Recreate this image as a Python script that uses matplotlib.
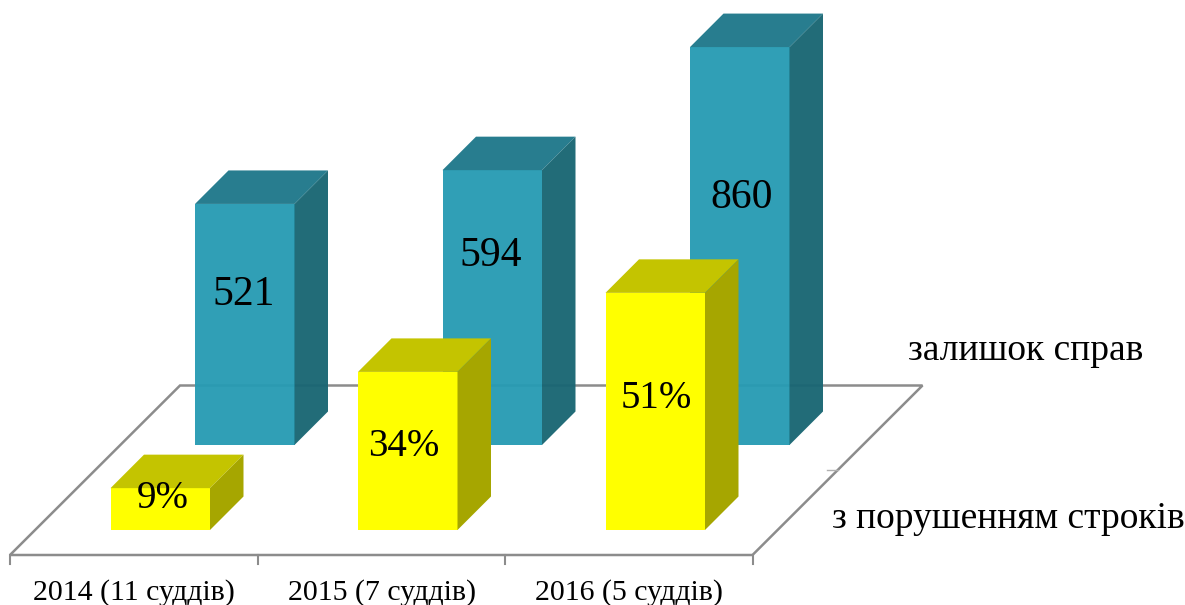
import matplotlib
matplotlib.use('Agg')
import matplotlib.pyplot as plt
from matplotlib.patches import Polygon

plt.rcParams['font.family'] = ['Liberation Serif', 'DejaVu Serif']

# Data
years = ['2014 (11 суддів)', '2015 (7 суддів)', '2016 (5 суддів)']
series_names = ['з порушенням строків', 'залишок справ']
violations_pct = [9, 34, 51]
backlog = [521, 594, 860]

# Scales of the pseudo-3D picture (pixels)
px_per_case = 0.4627
px_per_pct = 4.65
depth = 33.5
bar_w = 99.5
cat_w = 247.5
floor_left = 10
floor_front = 555
floor_back = 385.5
floor_shift = 170
base_front = 530
base_back = 445
bar_offset_front = 100.5
bar_offset_back = 185

teal = ('#279bb3', '#1f788b', '#196673')
yellow = ('#ffff00', '#c4c400', '#a6a600')
grey = '#8c8c8c'

# Label positions as placed in the picture
backlog_label_y = [295, 256, 198]
backlog_label_dx = [-1, -2, 1.5]
pct_label_y = [499, 446, 399]
pct_label_dx = [2, -4.5, 1]


def draw_box(ax, x, base, height, colors, alpha=1.0, z=3):
    top = base - height
    front = [(x, base), (x + bar_w, base), (x + bar_w, top), (x, top)]
    roof = [(x, top), (x + bar_w, top), (x + bar_w + depth, top - depth), (x + depth, top - depth)]
    side = [(x + bar_w, base), (x + bar_w + depth, base - depth), (x + bar_w + depth, top - depth), (x + bar_w, top)]
    for pts, c in zip([front, roof, side], colors):
        ax.add_patch(Polygon(pts, closed=True, facecolor=c, edgecolor='none', alpha=alpha, zorder=z))


fig = plt.figure(figsize=(11.85, 6.05), dpi=100)
ax = fig.add_axes([0, 0, 1, 1])
ax.set_xlim(0, 1185)
ax.set_ylim(605, 0)
ax.axis('off')

# Floor
floor_right = floor_left + cat_w * len(years)
ax.add_patch(Polygon([(floor_left, floor_front), (floor_right, floor_front),
                      (floor_right + floor_shift, floor_back), (floor_left + floor_shift, floor_back)],
                     closed=True, facecolor='white', edgecolor=grey, linewidth=1.8, zorder=1))

# Category ticks and labels
for i in range(len(years) + 1):
    tx = floor_left + cat_w * i
    ax.plot([tx, tx], [floor_front, floor_front + 9], color=grey, linewidth=1.5, zorder=1)
for i, label in enumerate(years):
    ax.text(floor_left + cat_w * (i + 0.5) + 0.5, 593, label, fontsize=21.5, ha='center', va='center', color='black')

# Series tick on the right edge
ax.plot([827, 838], [470, 470], color='#b0b0b0', linewidth=1, zorder=1)

# Bars
for i, v in enumerate(backlog):
    x = floor_left + cat_w * i + bar_offset_back
    draw_box(ax, x, base_back, v * px_per_case, teal, alpha=0.96, z=3)
    ax.text(x + bar_w / 2 + backlog_label_dx[i], backlog_label_y[i], str(v), fontsize=30,
            ha='center', va='center', color='black', zorder=6)

for i, v in enumerate(violations_pct):
    x = floor_left + cat_w * i + bar_offset_front
    draw_box(ax, x, base_front, v * px_per_pct, yellow, z=4)
    ax.text(x + bar_w / 2 + pct_label_dx[i], pct_label_y[i], f'{v}%', fontsize=28,
            ha='center', va='center', color='black', zorder=6)

# Series names
ax.text(1025.5, 351, series_names[1], fontsize=27, ha='center', va='center', color='black')
ax.text(1008, 519, series_names[0], fontsize=27, ha='center', va='center', color='black')

fig.savefig('out.png', dpi=100)
